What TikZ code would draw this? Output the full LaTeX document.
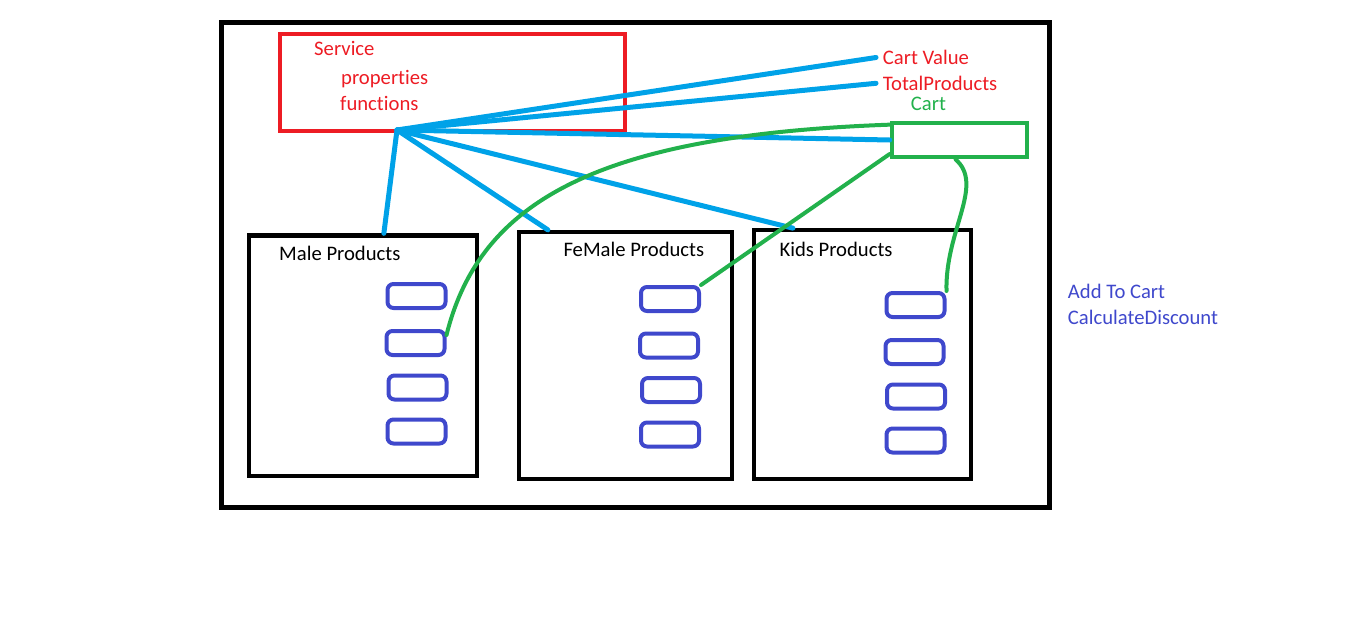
\documentclass[tikz,border=0pt]{standalone}
\usepackage{fontspec}
\setmainfont{Carlito}[Ligatures=NoCommon]
\usepackage{tikz}
\usetikzlibrary{positioning}
\definecolor{servicered}{RGB}{237,28,36}
\definecolor{linkblue}{RGB}{0,162,232}
\definecolor{cartgreen}{RGB}{34,177,76}
\definecolor{itemblue}{RGB}{63,72,204}

\begin{document}
\begin{tikzpicture}[x=0.75pt, y=-0.75pt,
    every node/.style={font=\fontsize{15.5}{18}\selectfont},
    outerbox/.style={draw=black, line width=3.75pt, inner sep=0pt},
    panel/.style={draw=black, line width=3.2pt, inner sep=0pt},
    item/.style={draw=itemblue, line width=3pt, rounded corners=4.5pt, minimum width=43.5pt, minimum height=18pt, inner sep=0pt},
    txt/.style={anchor=base west, inner sep=2pt},
    bluelink/.style={draw=linkblue, line width=3.75pt, line cap=round},
    greenlink/.style={draw=cartgreen, line width=3pt, line cap=round}]
      \useasboundingbox (0,0) rectangle (1360,628);
      \node[outerbox, minimum width=621pt, minimum height=363.75pt] (outer) at (635,264.5) {};
      \node[draw=servicered, line width=3pt, inner sep=0pt, minimum width=258.75pt, minimum height=72.75pt] (service) at (452.5,82.5) {};
      \node[txt, text=servicered] (servicetitle) at (311.3,55) {Service};
      \node[txt, text=servicered] (props) at (338.3,84.5) {properties};
      \node[txt, text=servicered] (funcs) at (337.3,110.5) {functions};
      \node[txt, text=servicered] (cartvalue) at (880,64) {Cart Value};
      \node[txt, text=servicered] (totalproducts) at (880,90) {TotalProducts};
      \node[txt, text=cartgreen] (cartlabel) at (908,110.5) {Cart};
      \node[draw=cartgreen, line width=3.5pt, inner sep=0pt, minimum width=101.25pt, minimum height=25.5pt] (cart) at (959.5,140) {};
      \node[panel, minimum width=171pt, minimum height=180.4pt] (male) at (363,355.7) {};
      \node[panel, minimum width=159.75pt, minimum height=185pt] (female) at (625.8,355.3) {};
      \node[panel, minimum width=163.2pt, minimum height=186.3pt] (kids) at (862.5,354.5) {};
      \node[txt] (maletitle) at (276.3,260) {Male Products};
      \node[txt] (femaletitle) at (560.6,256) {FeMale Products};
      \node[txt] (kidstitle) at (776.6,256.5) {Kids Products};
      \node[item] (m1) at (416.5,296) {};
      \node[item] (m2) at (415.5,343) {};
      \node[item] (m3) at (417.5,387.5) {};
      \node[item] (m4) at (416.5,431.5) {};
      \node[item] (f1) at (670,299) {};
      \node[item] (f2) at (669,345.5) {};
      \node[item] (f3) at (671,390) {};
      \node[item] (f4) at (670,434.5) {};
      \node[item] (k1) at (915.5,305) {};
      \node[item] (k2) at (914.5,352) {};
      \node[item] (k3) at (916,396.5) {};
      \node[item] (k4) at (915.5,440.5) {};
      \node[txt, text=itemblue] (addtocart) at (1065,298) {Add To Cart};
      \node[txt, text=itemblue] (calcdiscount) at (1065,324.3) {CalculateDiscount};
      \coordinate (hub) at (397,130);
      \draw[bluelink, shorten >=3pt] (hub) -- (cartvalue.west);
      \draw[bluelink, shorten >=3pt] (hub) -- (totalproducts.west);
      \draw[bluelink] (hub) -- (cart.west);
      \draw[bluelink] (hub) -- ([xshift=31pt]kids.north west);
      \draw[bluelink] (hub) -- ([xshift=23pt]female.north west);
      \draw[bluelink] (hub) -- ([xshift=102.75pt]male.north west);
      \draw[greenlink] ([yshift=-3pt]cart.north west) .. controls (600,135) and (480,200) .. ([yshift=6pt]m2.east);
      \draw[greenlink] ([yshift=4pt]cart.south west) -- (f1.north east);
      \draw[greenlink] ([xshift=-3pt]cart.south) .. controls (985,185) and (945,230) .. (k1.north east);
    \end{tikzpicture}
\end{document}
